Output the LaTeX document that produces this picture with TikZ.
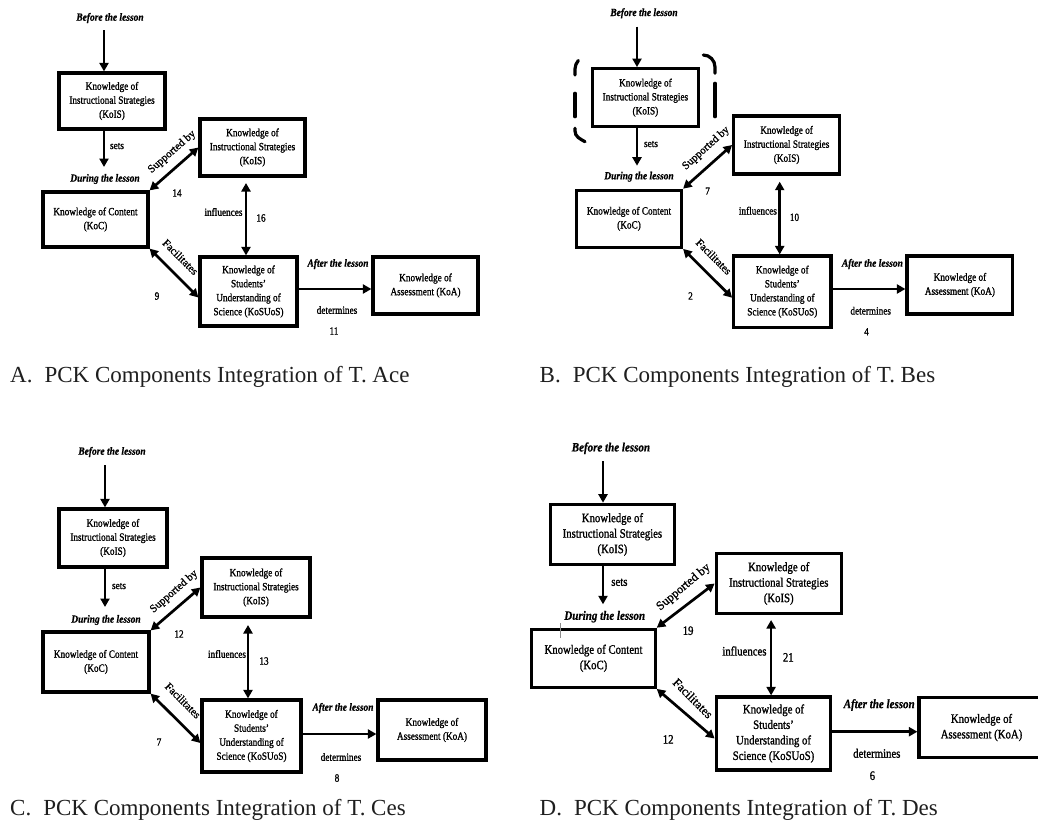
\documentclass[tikz,border=0pt]{standalone}
\usepackage{fontspec}
\setmainfont{Liberation Serif}
\newfontfamily\boxfont{Liberation Serif}[FakeStretch=0.84,FakeBold=1.2]
\newfontfamily\lessonfont{Liberation Serif}[FakeStretch=0.86,FakeBold=0.6]
\newfontfamily\rotfont{Liberation Serif}[FakeBold=1.0]
\usetikzlibrary{arrows.meta,calc}
\def\pfs{11}\def\plead{14}\def\prs{11}
\tikzset{
  pckbox/.style={draw,line width=3.2pt,align=center,inner sep=0pt,
    font=\boxfont\fontsize{\pfs}{\plead}\selectfont},
  lesson/.style={inner sep=0pt,font=\lessonfont\bfseries\itshape\fontsize{\pfs}{\plead}\selectfont},
  lbl/.style={inner sep=0pt,font=\boxfont\fontsize{\pfs}{\plead}\selectfont},
  rlbl/.style={inner sep=0pt,font=\rotfont\fontsize{\prs}{13}\selectfont},
  arr/.style={line width=2.7pt,-{Triangle[length=8.5pt,width=9pt]}},
  darr/.style={line width=2.7pt,{Triangle[length=8.5pt,width=9pt]}-{Triangle[length=8.5pt,width=9pt]}},
  caption/.style={anchor=west,inner sep=0pt,text=black!88,font=\fontsize{23}{26}\selectfont},
  dashbox/.style={line width=3.2pt,line cap=round},
}
\begin{document}
\begin{tikzpicture}[x=1pt,y=-1pt]
\useasboundingbox[fill=white] (0,0) rectangle (1038,822);

% ================= Panel A =================
\node[lesson] (A-bl) at (110,18) {Before the lesson};
\coordinate (A-top) at (104,30);
\node[pckbox,minimum width=106pt,minimum height=56pt] (A-kois1) at (112,101) {Knowledge of\\Instructional Strategies\\(KoIS)};
\coordinate (A-setsend) at (104,167);
\node[lbl] (A-sets) at (117,146) {sets};
\node[lesson] (A-during) at (105,179) {During the lesson};
\node[pckbox,minimum width=105pt,minimum height=55pt] (A-koc) at (95.5,219.5) {Knowledge of Content\\(KoC)};
\node[pckbox,minimum width=105pt,minimum height=57pt] (A-kois2) at (252.5,147.5) {Knowledge of\\Instructional Strategies\\(KoIS)};
\node[pckbox,minimum width=97pt,minimum height=69pt] (A-kosuos) at (248.5,291.5) {Knowledge of\\Students’\\Understanding of\\Science (KoSUoS)};
\node[pckbox,minimum width=105pt,minimum height=57pt] (A-koa) at (425.5,285.5) {Knowledge of\\Assessment (KoA)};
\coordinate (A-inftop) at (246,183);
\coordinate (A-dy) at (0,289);
\draw[arr] (A-top) -- (A-kois1.north -| A-top);
\draw[arr] (A-kois1.south -| A-setsend) -- (A-setsend);
\draw[darr] (A-koc.north east) -- (A-kois2.west);
\draw[darr] (A-koc.south east) -- ($(A-kosuos.west)+(0,6)$);
\draw[darr] (A-inftop) -- (A-kosuos.north -| A-inftop);
\draw[arr] (A-kosuos.east |- A-dy) -- (A-koa.west |- A-dy);
\node[rlbl,rotate=41] (A-sup) at (172,152) {Supported by};
\node[lbl] (A-n14) at (177,193) {14};
\node[lbl] (A-infl) at (223.5,212) {influences};
\node[lbl] (A-n16) at (261,218) {16};
\node[rlbl,rotate=-45] (A-fac) at (180.5,257) {Facilitates};
\node[lbl] (A-n9) at (157,296) {9};
\node[lesson] (A-after) at (338,264) {After the lesson};
\node[lbl] (A-det) at (337,310) {determines};
\node[lbl] (A-n11) at (334,331) {11};
\node[caption] (A-cap) at (10,377) {A.\hspace{12pt}PCK Components Integration of T. Ace};

% ================= Panel B =================
\node[lesson] (B-bl) at (644,13.3) {Before the lesson};
\coordinate (B-top) at (637,26.7);
\node[pckbox,minimum width=105.5pt,minimum height=58pt] (B-kois1) at (645.4,97.7) {Knowledge of\\Instructional Strategies\\(KoIS)};
\coordinate (B-setsend) at (637,165.7);
\node[lbl] (B-sets) at (651,144) {sets};
\node[lesson] (B-during) at (639,176.7) {During the lesson};
\node[pckbox,minimum width=105pt,minimum height=57pt] (B-koc) at (629,218.8) {Knowledge of Content\\(KoC)};
\node[pckbox,minimum width=105.8pt,minimum height=58pt] (B-kois2) at (786.6,145) {Knowledge of\\Instructional Strategies\\(KoIS)};
\node[pckbox,minimum width=97.2pt,minimum height=71.3pt] (B-kosuos) at (782.3,291.7) {Knowledge of\\Students’\\Understanding of\\Science (KoSUoS)};
\node[pckbox,minimum width=105.8pt,minimum height=58pt] (B-koa) at (959.9,285) {Knowledge of\\Assessment (KoA)};
\coordinate (B-inftop) at (779.7,181.7);
\coordinate (B-dy) at (0,289);
\draw[arr] (B-top) -- (B-kois1.north -| B-top);
\draw[arr] (B-kois1.south -| B-setsend) -- (B-setsend);
\draw[darr] (B-koc.north east) -- (B-kois2.west);
\draw[darr] (B-koc.south east) -- ($(B-kosuos.west)+(0,6)$);
\draw[darr] (B-inftop) -- (B-kosuos.north -| B-inftop);
\draw[arr] (B-kosuos.east |- B-dy) -- (B-koa.west |- B-dy);
\node[rlbl,rotate=42] (B-sup) at (706,148.3) {Supported by};
\node[lbl] (B-n7) at (707.6,191) {7};
\node[lbl] (B-infl) at (757.9,210.7) {influences};
\node[lbl] (B-n10) at (794.5,217.3) {10};
\node[rlbl,rotate=-45] (B-fac) at (713.8,256.7) {Facilitates};
\node[lbl] (B-n2) at (690.5,296) {2};
\node[lesson] (B-after) at (872.4,264) {After the lesson};
\node[lbl] (B-det) at (870.7,310.7) {determines};
\node[lbl] (B-n4) at (866.5,331.7) {4};
\node[caption] (B-cap) at (539.5,377) {B.\hspace{12pt}PCK Components Integration of T. Bes};
% dashed highlight round the first KoIS box
\draw[dashbox] (578.3,60.5) to[out=235,in=90] (575,69) -- (575,75);
\draw[dashbox] (575,93.3) -- (575,116.7);
\draw[dashbox] (575,128.3) -- (575,131) to[out=-90,in=150] (585,141.7);
\draw[dashbox] (703.3,55) to[out=0,in=90] (715,67) -- (715,73.3);
\draw[dashbox] (715,83.3) -- (715,116.7);

% ================= Panel C =================
\node[lesson] (C-bl) at (112,452) {Before the lesson};
\coordinate (C-top) at (105,465);
\node[pckbox,minimum width=108pt,minimum height=58pt] (C-kois1) at (113,538) {Knowledge of\\Instructional Strategies\\(KoIS)};
\coordinate (C-setsend) at (105,607);
\node[lbl] (C-sets) at (119,586) {sets};
\node[lesson] (C-during) at (106,620) {During the lesson};
\node[pckbox,minimum width=106pt,minimum height=60pt] (C-koc) at (96,662) {Knowledge of Content\\(KoC)};
\node[pckbox,minimum width=108pt,minimum height=59pt] (C-kois2) at (256,587.5) {Knowledge of\\Instructional Strategies\\(KoIS)};
\node[pckbox,minimum width=99pt,minimum height=72pt] (C-kosuos) at (251.5,736) {Knowledge of\\Students’\\Understanding of\\Science (KoSUoS)};
\node[pckbox,minimum width=108pt,minimum height=60pt] (C-koa) at (432,730) {Knowledge of\\Assessment (KoA)};
\coordinate (C-inftop) at (248,625);
\coordinate (C-dy) at (0,734);
\draw[arr] (C-top) -- (C-kois1.north -| C-top);
\draw[arr] (C-kois1.south -| C-setsend) -- (C-setsend);
\draw[darr] (C-koc.north east) -- (C-kois2.west);
\draw[darr] (C-koc.south east) -- ($(C-kosuos.west)+(0,7)$);
\draw[darr] (C-inftop) -- (C-kosuos.north -| C-inftop);
\draw[arr] (C-kosuos.east |- C-dy) -- (C-koa.west |- C-dy);
\node[rlbl,rotate=41] (C-sup) at (174,591.7) {Supported by};
\node[lbl] (C-n12) at (179,634) {12};
\node[lbl] (C-infl) at (227,654) {influences};
\node[lbl] (C-n13) at (264,661) {13};
\node[rlbl,rotate=-45] (C-fac) at (183,700.5) {Facilitates};
\node[lbl] (C-n7) at (159,742) {7};
\node[lesson] (C-after) at (343,708) {After the lesson};
\node[lbl] (C-det) at (341,757) {determines};
\node[lbl] (C-n8) at (337,778) {8};
\node[caption] (C-cap) at (10,810) {C.\hspace{12pt}PCK Components Integration of T. Ces};

% ================= Panel D =================
\begin{scope}
\def\pfs{12.8}\def\plead{15.5}\def\prs{12.3}
\node[lesson] (D-bl) at (610.9,448.3) {Before the lesson};
\coordinate (D-top) at (603,461);
\node[pckbox,minimum width=124.6pt,minimum height=60.4pt] (D-kois1) at (612.4,534.5) {Knowledge of\\Instructional Strategies\\(KoIS)};
\coordinate (D-setsend) at (603,604.3);
\node[lbl] (D-sets) at (619.4,582.3) {sets};
\node[lesson] (D-during) at (604.7,616.7) {During the lesson};
\node[pckbox,minimum width=123.3pt,minimum height=58pt] (D-koc) at (593.5,658.3) {Knowledge of Content\\(KoC)};
\node[pckbox,minimum width=125pt,minimum height=59.6pt] (D-kois2) at (778.7,583.5) {Knowledge of\\Instructional Strategies\\(KoIS)};
\node[pckbox,minimum width=114.7pt,minimum height=73pt] (D-kosuos) at (773.5,733.5) {Knowledge of\\Students’\\Understanding of\\Science (KoSUoS)};
\node[pckbox,minimum width=125pt,minimum height=59.6pt] (D-koa) at (981.5,727.5) {Knowledge of\\Assessment (KoA)};
\coordinate (D-inftop) at (771.1,620);
\coordinate (D-dy) at (0,731.7);
\draw[arr] (D-top) -- (D-kois1.north -| D-top);
\draw[arr] (D-kois1.south -| D-setsend) -- (D-setsend);
\draw[darr] (D-koc.north east) -- (D-kois2.west);
\draw[darr] (D-koc.south east) -- ($(D-kosuos.west)+(0,5)$);
\draw[darr] (D-inftop) -- (D-kosuos.north -| D-inftop);
\draw[arr] (D-kosuos.east |- D-dy) -- (D-koa.west |- D-dy);
\node[rlbl,rotate=40] (D-sup) at (683.6,587.3) {Supported by};
\node[lbl] (D-n19) at (688.1,630.7) {19};
\node[lbl] (D-infl) at (744.4,651) {influences};
\node[lbl] (D-n21) at (788.3,657.3) {21};
\node[rlbl,rotate=-45] (D-fac) at (692.9,698.3) {Facilitates};
\node[lbl] (D-n12) at (668.2,739.3) {12};
\node[lesson] (D-after) at (879.2,705) {After the lesson};
\node[lbl] (D-det) at (876.8,753.3) {determines};
\node[lbl] (D-n6) at (872.4,775.7) {6};
\draw[line width=0.6pt,black!45] (560,623.3) -- (560,638.3);
\end{scope}
\node[caption] (D-cap) at (539.5,810) {D.\hspace{12pt}PCK Components Integration of T. Des};
\end{tikzpicture}
\end{document}
